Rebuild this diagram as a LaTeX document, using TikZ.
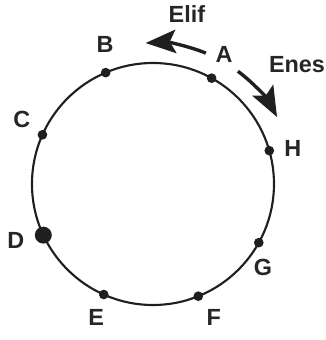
\documentclass[tikz,border=0pt]{standalone}
\usepackage{fontspec}
\setmainfont{Liberation Sans}
\usetikzlibrary{arrows.meta, positioning}

\begin{document}
\begin{tikzpicture}[
        ink/.style={black!88},
        ring/.style={ink, line width=1.5pt},
        dot/.style={circle, inner sep=0pt, minimum size=2.4mm, fill=black!88},
        bigdot/.style={circle, inner sep=0pt, minimum size=4.2mm, fill=black!88},
        lbl/.style={font=\fontsize{16.5}{18}\selectfont\bfseries, text=black!85},
        walk/.style={black!88, line width=2.4pt, -{Stealth[length=7.5mm, width=5.8mm, inset=1.5mm]}},
    ]
    \useasboundingbox (-3.793,-3.868) rectangle (4.289,4.562);

    %% ---- the ring ----
    \draw[ring] (0,0) circle[radius=3];

    %% ---- points on the ring ----
    \foreach \nm/\ang in {A/61, B/113, C/156, E/246, F/292, G/331, H/16} {
        \node[dot] (\nm) at (\ang:3) {};
    }
    \node[bigdot] (D) at (205:3) {};

    %% ---- labels ----
    \node[lbl] (lA) at (1.76, 3.22) {A};
    \node[lbl] (lB) at (-1.19, 3.45) {B};
    \node[lbl] (lC) at (-3.25, 1.59) {C};
    \node[lbl] (lD) at (-3.40, -1.41) {D};
    \node[lbl] (lE) at (-1.41, -3.32) {E};
    \node[lbl] (lF) at (1.51, -3.30) {F};
    \node[lbl] (lG) at (2.73, -2.08) {G};
    \node[lbl] (lH) at (3.47, 0.89) {H};

    %% ---- who walks which way ----
    \node[lbl] (elif) at (0.84, 4.21) {Elif};
    \node[lbl] (enes) at (3.57, 2.97) {Enes};
    \coordinate (elifstart) at (68:3.5);
    \coordinate (enesstart) at (53:3.5);
    \draw[walk] (elifstart) arc[start angle=68, end angle=93, radius=3.5];
    \draw[walk] (enesstart) arc[start angle=53, end angle=28, radius=3.45];

\end{tikzpicture}
\end{document}
